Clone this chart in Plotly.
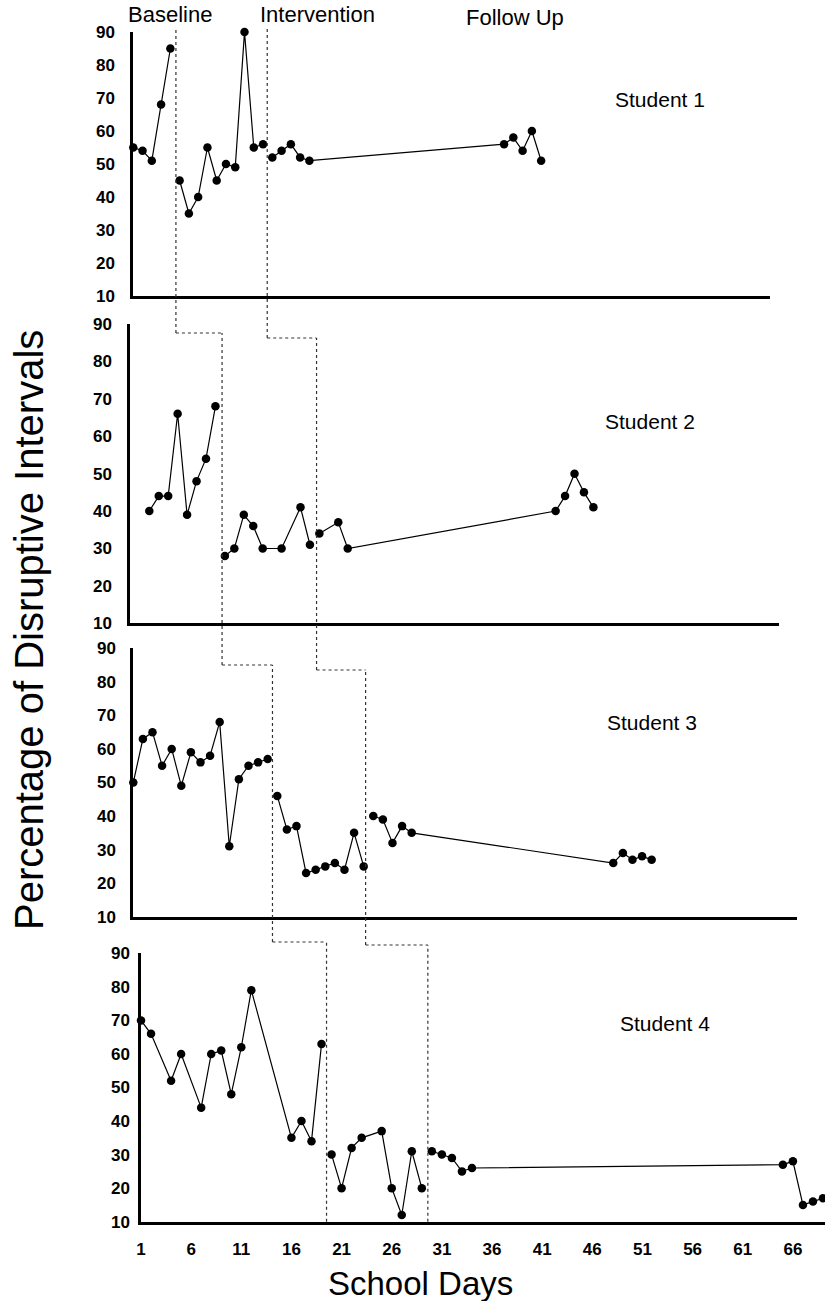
import plotly.graph_objects as go

W, H = 825, 1301

# ---------------- data ----------------
students = ["Student 1", "Student 2", "Student 3", "Student 4"]
phase_headers = ["Baseline", "Intervention", "Follow Up"]

days1 = list(range(1, 21)) + [41, 42, 43, 44, 45]
vals1 = [55, 54, 51, 68, 85,
         45, 35, 40, 55, 45, 50, 49, 90, 55, 56,
         52, 54, 56, 52, 51,
         56, 58, 54, 60, 51]
seg1 = [0] * 5 + [1] * 10 + [2] * 10

days2 = [3, 4, 5, 6, 7, 8, 9, 10,
         11, 12, 13, 14, 15, 17, 19, 20,
         21, 23, 24, 46, 47, 48, 49, 50]
vals2 = [40, 44, 44, 66, 39, 48, 54, 68,
         28, 30, 39, 36, 30, 30, 41, 31,
         34, 37, 30, 40, 44, 50, 45, 41]
seg2 = [0] * 8 + [1] * 8 + [2] * 8

days3 = list(range(1, 31)) + [51, 52, 53, 54, 55]
vals3 = [50, 63, 65, 55, 60, 49, 59, 56, 58, 68, 31, 51, 55, 56, 57,
         46, 36, 37, 23, 24, 25, 26, 24, 35, 25,
         40, 39, 32, 37, 35, 26, 29, 27, 28, 27]
seg3 = [0] * 15 + [1] * 10 + [2] * 10

days4 = [1, 2, 4, 5, 7, 8, 9, 10, 11, 12, 16, 17, 18, 19,
         20, 21, 22, 23, 25, 26, 27, 28, 29,
         30, 31, 32, 33, 34, 65, 66, 67, 68, 69]
vals4 = [70, 66, 52, 60, 44, 60, 61, 48, 62, 79, 35, 40, 34, 63,
         30, 20, 32, 35, 37, 20, 12, 31, 20,
         31, 30, 29, 25, 26, 27, 28, 15, 16, 17]
seg4 = [0] * 14 + [1] * 9 + [2] * 10

# phase-change positions (school day) per student
phase_change_a = [5.6, 10.7, 15.5, 19.5]
phase_change_b = [15.45, 20.7, 25.2, 29.6]

x_ticks = list(range(1, 67, 5))
y_ticks = list(range(10, 91, 10))

all_days = [days1, days2, days3, days4]
all_vals = [vals1, vals2, vals3, vals4]
all_segs = [seg1, seg2, seg3, seg4]

# ---------------- layout geometry (pixels) ----------------
x_dom_px = [(133, 770), (130, 779), (133, 797), (141, 825)]
x_rng = [(0.97, 69.69), (0.958, 69.64), (0.97, 70.14), (1.0, 69.2)]
y_dom_px = [(32, 296), (324, 623.3), (648.3, 916.7), (953.3, 1221.7)]
label_standoff = [12, 12, 11, 5]
student_lbl_px = [(660, 100), (650, 421), (652, 722), (665, 1023)]
header_px = [(170, 15), (317, 15), (515, 18)]
conn_a_px = [333, 665, 942]
conn_b_px = [338, 670, 945]
top_px = 28

def px_x(p):
    return p / W

def px_y(p):
    return 1 - p / H

def day_to_paper(i, d):
    L, R = x_dom_px[i]
    a, b = x_rng[i]
    return px_x(L + (d - a) / (b - a) * (R - L))

FONT = "Liberation Sans, Arial, sans-serif"

fig = go.Figure()

for i in range(4):
    xa = "x" if i == 0 else f"x{i+1}"
    ya = "y" if i == 0 else f"y{i+1}"
    d, v, s = all_days[i], all_vals[i], all_segs[i]
    for seg in sorted(set(s)):
        xs = [d[k] for k in range(len(d)) if s[k] == seg]
        ys = [v[k] for k in range(len(d)) if s[k] == seg]
        fig.add_trace(go.Scatter(
            x=xs, y=ys, mode="lines+markers", xaxis=xa, yaxis=ya,
            line=dict(color="black", width=1.2),
            marker=dict(color="black", size=8.5),
            cliponaxis=False, showlegend=False, hoverinfo="x+y"))

layout = dict(
    width=W, height=H, template="none",
    margin=dict(l=0, r=0, t=0, b=0),
    paper_bgcolor="white", plot_bgcolor="rgba(0,0,0,0)",
    showlegend=False, font=dict(family=FONT, color="black"),
)

for i in range(4):
    xk = "xaxis" if i == 0 else f"xaxis{i+1}"
    yk = "yaxis" if i == 0 else f"yaxis{i+1}"
    ya = "y" if i == 0 else f"y{i+1}"
    xa = "x" if i == 0 else f"x{i+1}"
    L, R = x_dom_px[i]
    T, B = y_dom_px[i]
    layout[xk] = dict(
        domain=[px_x(L), px_x(R)], range=list(x_rng[i]), anchor=ya,
        showline=True, linecolor="black", linewidth=2.5, mirror=False,
        showgrid=False, zeroline=False, ticks="",
        tickvals=x_ticks, showticklabels=(i == 3),
        tickfont=dict(family=FONT, size=17, weight="bold", color="black"),
        ticklabelstandoff=10, automargin=False, fixedrange=True)
    layout[yk] = dict(
        domain=[px_y(B), px_y(T)], range=[10, 90], anchor=xa,
        showline=True, linecolor="black", linewidth=2.5,
        showgrid=False, zeroline=False, ticks="",
        tickvals=y_ticks,
        tickfont=dict(family=FONT, size=17, weight="bold", color="black"),
        ticklabelstandoff=label_standoff[i], automargin=False, fixedrange=True)

fig.update_layout(**layout)

# ---------------- phase-change lines ----------------
dot = dict(color="#333", width=1.2, dash="dot")
for changes, conns in [(phase_change_a, conn_a_px), (phase_change_b, conn_b_px)]:
    tops = [top_px] + conns
    bottoms = conns + [y_dom_px[3][1]]
    for i in range(4):
        xa = "x" if i == 0 else f"x{i+1}"
        fig.add_shape(type="line", xref=xa, yref="paper",
                      x0=changes[i], x1=changes[i],
                      y0=px_y(bottoms[i]), y1=px_y(tops[i]), line=dot)
        if i < 3:
            fig.add_shape(type="line", xref="paper", yref="paper",
                          x0=day_to_paper(i, changes[i]),
                          x1=day_to_paper(i + 1, changes[i + 1]),
                          y0=px_y(conns[i]), y1=px_y(conns[i]), line=dot)

# ---------------- text ----------------
for name, (cx, cy) in zip(students, student_lbl_px):
    fig.add_annotation(text=name, x=px_x(cx), y=px_y(cy), xref="paper", yref="paper",
                       showarrow=False, font=dict(family=FONT, size=21, color="black"),
                       xanchor="center", yanchor="middle")

for name, (cx, cy) in zip(phase_headers, header_px):
    fig.add_annotation(text=name, x=px_x(cx), y=px_y(cy), xref="paper", yref="paper",
                       showarrow=False, font=dict(family=FONT, size=22, color="black"),
                       xanchor="center", yanchor="middle")

fig.add_annotation(text="Percentage of Disruptive Intervals", x=px_x(29), y=px_y(630),
                   xref="paper", yref="paper", showarrow=False, textangle=-90,
                   font=dict(family=FONT, size=40, color="black"),
                   xanchor="center", yanchor="middle")
fig.add_annotation(text="School Days", x=px_x(421), y=px_y(1283),
                   xref="paper", yref="paper", showarrow=False,
                   font=dict(family=FONT, size=33, color="black"),
                   xanchor="center", yanchor="middle")

fig.write_html("out.html",
               config={"displayModeBar": False},
               post_script="document.body.style.margin='0px';document.body.style.overflow='hidden';")
